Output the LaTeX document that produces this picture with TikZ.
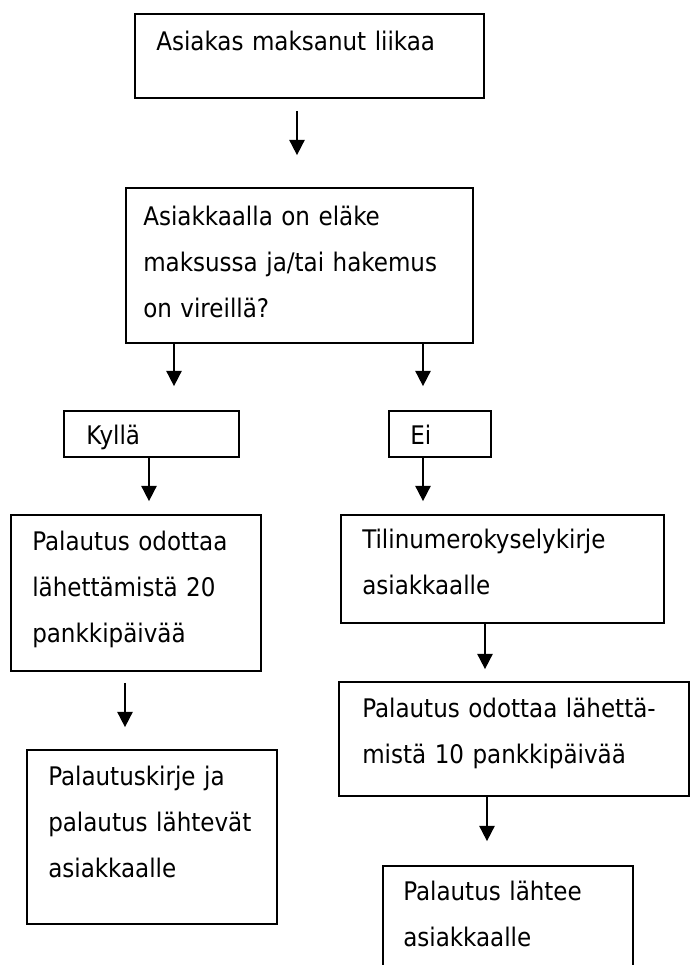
\documentclass[tikz,border=0pt]{standalone}
\usepackage{fontspec}
\setmainfont{DejaVu Sans Condensed}
\usetikzlibrary{arrows.meta,calc,fit}
\begin{document}
\begin{tikzpicture}[x=0.75pt,y=-0.75pt,
  box/.style={draw, line width=1.3pt, inner sep=0pt, rectangle},
  txt/.style={anchor=base west, inner sep=0pt, align=left, text width=300pt,
              font=\fontsize{19.2}{34.5}\selectfont},
  arr/.style={line width=1.3pt, -{Triangle[width=11.5pt,length=11.5pt]}}]
\useasboundingbox (0,0) rectangle (691,965);
\clip (0,0) rectangle (691,965);

% boxes
\node[box, fit={(135,14) (484,98)}]   (b1) {};
\node[box, fit={(126,188) (473,343)}] (b2) {};
\node[box, fit={(64,411) (239,457)}]  (yes) {};
\node[box, fit={(389,411) (491,457)}] (no) {};
\node[box, fit={(11,515) (261,671)}]  (wait20) {};
\node[box, fit={(341,515) (664,623)}] (query) {};
\node[box, fit={(339,682) (689,796)}] (wait10) {};
\node[box, fit={(27,750) (277,924)}]  (sendA) {};
\node[box, fit={(383,866) (633,985)}] (sendB) {};

% texts
\node[txt] (t1) at (156,50) {Asiakas maksanut liikaa};
\node[txt] (t2) at (143,225) {Asiakkaalla on eläke\\maksussa ja/tai hakemus\\on vireillä?};
\node[txt] (tyes) at (86,444) {Kyllä};
\node[txt] (tno) at (410,444) {Ei};
\node[txt] (tw20) at (32,550) {Palautus odottaa\\lähettämistä 20\\pankkipäivää};
\node[txt] (tq) at (362,548) {Tilinumerokyselykirje\\asiakkaalle};
\node[txt] (tw10) at (362,717) {Palautus odottaa lähettä-\\mistä 10 pankkipäivää};
\node[txt] (tsA) at (48,785) {Palautuskirje ja\\palautus lähtevät\\asiakkaalle};
\node[txt] (tsB) at (403,900) {Palautus lähtee\\asiakkaalle};

% connectors
\draw[arr] ($(b1.south)+(-12.5,12)$) coordinate (s1) -- ($(s1 |- b2.north)+(0,-32)$);
\draw[arr] ($(b2.south)+(-125.5,0)$) coordinate (s2) -- ($(s2 |- yes.north)+(0,-24)$);
\draw[arr] ($(b2.south)+(123.5,0)$) coordinate (s3) -- ($(s3 |- no.north)+(0,-24)$);
\draw[arr] ($(yes.south)+(-2.5,0)$) coordinate (s4) -- ($(s4 |- wait20.north)+(0,-13)$);
\draw[arr] ($(no.south)+(-17,0)$) coordinate (s5) -- ($(s5 |- query.north)+(0,-13)$);
\draw[arr] ($(wait20.south)+(-11,11)$) coordinate (s6) -- ($(s6 |- sendA.north)+(0,-22)$);
\draw[arr] ($(query.south)+(-17.5,0)$) coordinate (s7) -- ($(s7 |- wait10.north)+(0,-12)$);
\draw[arr] ($(wait10.south)+(-27,0)$) coordinate (s8) -- ($(s8 |- sendB.north)+(0,-24)$);
\end{tikzpicture}
\end{document}
